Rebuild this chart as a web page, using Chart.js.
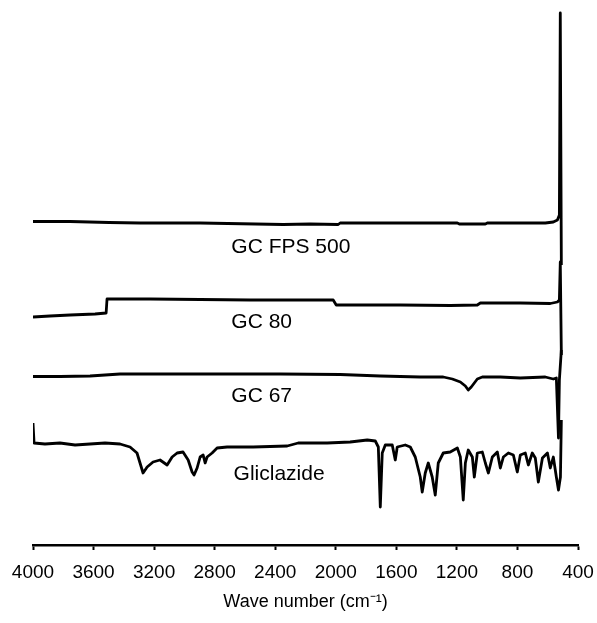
<!DOCTYPE html>
<html>
<head>
<meta charset="utf-8">
<script src="https://cdn.jsdelivr.net/npm/chart.js@4.4.1/dist/chart.umd.min.js"></script>
<style>
  body { margin: 0; background: #fff; }
  #box { width: 597px; height: 623px; }
</style>
</head>
<body>
<div id="box"><canvas id="c"></canvas></div>
<script>
// wave numbers (cm-1) and relative transmittance (offset traces, arbitrary units)
var xTicks = [4000, 3600, 3200, 2800, 2400, 2000, 1600, 1200, 800, 400];

var wnFps = [4000, 3755, 3498, 3293, 2896, 2348, 2169, 1984, 1971, 1574, 1197, 1184, 1012, 999, 616, 563, 536, 523, 517, 510];
var tFps  = [64.7, 64.7, 64.5, 64.4, 64.4, 64.1, 64.2, 64.1, 64.4, 64.4, 64.4, 64.2, 64.2, 64.4, 64.4, 64.6, 65.0, 66.0, 106.4, 56.0];

var wn80 = [4000, 3888, 3755, 3590, 3517, 3511, 3227, 2896, 2566, 2235, 2017, 1997, 1574, 1244, 1065, 1045, 781, 583, 536, 523, 517, 510];
var t80  = [45.6, 45.8, 46.0, 46.2, 46.4, 49.2, 49.2, 49.1, 49.0, 49.0, 49.0, 48.0, 48.0, 47.9, 48.0, 48.4, 48.4, 48.3, 48.6, 49.0, 56.6, 38.0];

var wn67 = [4000, 3822, 3623, 3524, 3425, 2896, 2367, 1971, 1706, 1442, 1290, 1230, 1177, 1144, 1125, 1105, 1065, 1032, 913, 781, 616, 563, 543, 529, 523, 510];
var t67  = [33.7, 33.7, 33.8, 34.0, 34.2, 34.2, 34.2, 34.1, 33.8, 33.6, 33.6, 33.2, 32.6, 31.8, 31.0, 31.6, 33.2, 33.6, 33.6, 33.4, 33.6, 33.2, 33.4, 21.4, 33.0, 39.0];

var wnGlz = [4000, 3993, 3921, 3822, 3722, 3623, 3524, 3425, 3359, 3313, 3293, 3273, 3246, 3207, 3161, 3114, 3081, 3048, 3009, 2975,
             2949, 2936, 2916, 2896, 2876, 2863, 2850, 2817, 2784, 2718, 2546, 2321, 2248, 2169, 2057, 1905, 1792, 1739, 1719, 1706,
             1693, 1673, 1627, 1607, 1594, 1541, 1508, 1475, 1442, 1429, 1409, 1389, 1363, 1343, 1323, 1290, 1244, 1197, 1177, 1158,
             1144, 1125, 1098, 1085, 1065, 1032, 1012, 992, 966, 933, 913, 893, 860, 827, 801, 781, 748, 728, 702, 682,
             662, 635, 602, 583, 563, 543, 529, 516, 510];
var tGlz  = [24.4, 20.4, 20.2, 20.4, 20.0, 20.2, 20.4, 20.2, 19.6, 18.4, 16.4, 14.4, 15.6, 16.6, 17.0, 16.0, 17.6, 18.4, 18.6, 17.0,
             14.6, 14.0, 15.4, 17.6, 18.0, 16.4, 17.6, 18.4, 19.4, 19.6, 19.6, 19.8, 20.4, 20.4, 20.4, 20.6, 21.0, 20.8, 19.6, 7.6,
             18.4, 20.0, 20.0, 17.0, 19.6, 20.0, 19.6, 17.6, 13.6, 10.6, 14.4, 16.4, 13.6, 10.0, 16.4, 18.4, 18.6, 19.4, 17.6, 9.0,
             16.4, 19.0, 17.6, 13.6, 18.4, 18.6, 16.4, 14.4, 17.6, 18.6, 15.4, 17.6, 18.4, 18.0, 14.6, 18.0, 18.4, 16.0, 18.4, 17.4,
             12.6, 17.4, 18.4, 15.4, 17.6, 13.6, 11.0, 13.6, 25.0];

var traceNames = ['GC FPS 500', 'GC 80', 'GC 67', 'Gliclazide'];

var FONT = '"Liberation Sans", Arial, sans-serif';

function pts(xs, ys) {
    return xs.map(function(x, i) { return { x: x, y: ys[i] }; });
}

function trace(label, xs, ys) {
    return {
        label: label,
        data: pts(xs, ys),
        borderColor: '#000',
        borderWidth: 2.8,
        borderJoinStyle: 'round',
        pointRadius: 0,
        tension: 0,
        fill: false
    };
}

// trace names written next to each spectrum
var nameSpots = [[2690, 58.4], [2690, 43.4], [2690, 28.6], [2675, 13.0]];

var traceLabels = {
    id: 'traceLabels',
    afterDatasetsDraw: function(chart) {
        var ctx = chart.ctx, xs = chart.scales.x, ys = chart.scales.y;
        ctx.save();
        ctx.fillStyle = '#000';
        ctx.font = '21px ' + FONT;
        ctx.textAlign = 'left';
        ctx.textBaseline = 'alphabetic';
        traceNames.forEach(function(n, i) {
            ctx.fillText(n, xs.getPixelForValue(nameSpots[i][0]), ys.getPixelForValue(nameSpots[i][1]));
        });
        ctx.restore();
    }
};

new Chart(document.getElementById('c').getContext('2d'), {
    type: 'line',
    data: {
        datasets: [
            trace(traceNames[0], wnFps, tFps),
            trace(traceNames[1], wn80, t80),
            trace(traceNames[2], wn67, t67),
            trace(traceNames[3], wnGlz, tGlz)
        ]
    },
    options: {
        responsive: true,
        maintainAspectRatio: false,
        animation: false,
        layout: { padding: { top: 11, left: 33, right: 19, bottom: 0 } },
        plugins: { legend: { display: false }, tooltip: { enabled: false } },
        scales: {
            x: {
                type: 'linear',
                reverse: true,
                min: 400,
                max: 4000,
                afterBuildTicks: function(s) {
                    s.ticks = xTicks.map(function(v) { return { value: v }; });
                },
                afterFit: function(s) {
                    s.height = 78;
                    s.paddingLeft = 0;
                    s.paddingRight = 0;
                },
                ticks: {
                    color: '#000',
                    font: { family: FONT, size: 19 },
                    padding: 11,
                    maxRotation: 0,
                    autoSkip: false,
                    callback: function(v) { return String(v); }
                },
                grid: {
                    drawOnChartArea: false,
                    drawTicks: true,
                    tickLength: 5,
                    tickWidth: 2,
                    color: '#000'
                },
                border: { display: true, color: '#000', width: 2.5 },
                title: {
                    display: true,
                    text: 'Wave number (cm\u207B\u00B9)',
                    color: '#000',
                    font: { family: FONT, size: 18 },
                    padding: { top: 0, bottom: 10 }
                }
            },
            y: {
                display: false,
                min: 0,
                max: 106.8
            }
        }
    },
    plugins: [traceLabels]
});
</script>
</body>
</html>
